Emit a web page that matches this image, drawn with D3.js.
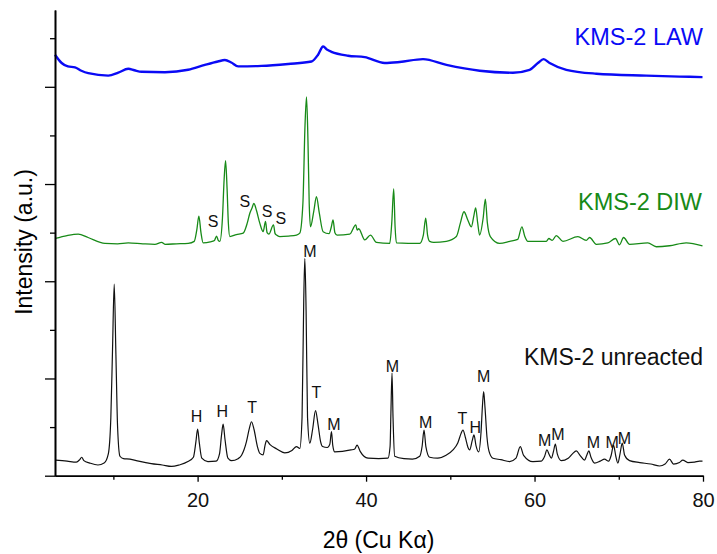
<!DOCTYPE html>
<html>
<head>
<meta charset="utf-8">
<script src="https://cdn.jsdelivr.net/npm/d3@7"></script>
<style>
  body { margin: 0; background: #fff; }
  svg text { font-family: "Liberation Sans", Arial, sans-serif; }
</style>
</head>
<body>
<div id="chart"></div>
<script>
// XRD patterns, [2theta, intensity (a.u.)]
var unreacted = [[3.1,0.32],[4.5,0.30],[5.6,0.28],[6.0,0.33],[6.24,0.38],[6.5,0.31],[7.2,0.26],[8.17,0.22],[8.9,0.26],[9.4,0.45],[9.7,1.2],[9.9,2.6],[10.1,3.94],[10.3,2.5],[10.5,1.0],[10.78,0.40],[11.2,0.35],[11.97,0.34],[13,0.30],[14.5,0.25],[15.8,0.22],[16.91,0.19],[17.8,0.22],[18.85,0.29],[19.5,0.38],[19.8,0.70],[20.0,0.96],[20.2,0.68],[20.5,0.36],[21.22,0.29],[22.2,0.30],[22.6,0.45],[22.85,0.85],[23.03,1.06],[23.25,0.75],[23.6,0.36],[24.03,0.31],[24.8,0.35],[25.22,0.42],[25.8,0.70],[26.15,0.98],[26.4,1.11],[26.7,0.95],[27.1,0.60],[27.39,0.46],[27.78,0.43],[28.0,0.62],[28.18,0.72],[28.6,0.64],[29.4,0.55],[30.35,0.47],[31.2,0.52],[31.74,0.60],[32.13,0.56],[32.4,1.2],[32.6,3.6],[32.73,4.47],[32.88,3.4],[33.05,1.2],[33.32,0.67],[33.65,0.95],[34.0,1.34],[34.3,1.05],[34.6,0.70],[34.83,0.60],[35.4,0.58],[35.7,0.65],[35.89,0.905],[36.05,0.62],[36.28,0.49],[37.2,0.50],[38.2,0.53],[38.66,0.55],[38.93,0.63],[39.3,0.50],[40.23,0.36],[41.5,0.35],[42.6,0.36],[42.85,0.6],[42.95,1.3],[43.08,2.11],[43.2,1.2],[43.4,0.40],[44.5,0.35],[45.5,0.34],[46.37,0.40],[46.65,0.6],[46.88,0.94],[47.1,0.6],[47.55,0.38],[48.5,0.36],[49.5,0.42],[50.32,0.53],[50.9,0.68],[51.3,0.88],[51.5,0.94],[51.8,0.78],[52.1,0.58],[52.3,0.53],[52.6,0.72],[52.81,0.84],[53.05,0.62],[53.37,0.49],[53.65,0.9],[53.82,1.45],[53.96,1.73],[54.12,1.4],[54.35,0.8],[54.6,0.5],[55.06,0.36],[56.0,0.33],[57.05,0.29],[57.8,0.36],[58.31,0.60],[58.7,0.42],[59.81,0.29],[60.8,0.30],[61.2,0.40],[61.47,0.53],[61.75,0.43],[61.99,0.36],[62.25,0.50],[62.47,0.65],[62.7,0.45],[63.18,0.31],[64.0,0.36],[64.5,0.45],[64.96,0.51],[65.4,0.42],[65.94,0.32],[66.2,0.42],[66.45,0.51],[66.7,0.38],[67.13,0.26],[67.8,0.30],[68.31,0.34],[68.8,0.30],[69.1,0.42],[69.38,0.63],[69.65,0.40],[69.89,0.26],[70.15,0.45],[70.41,0.67],[70.7,0.42],[71.28,0.31],[72.5,0.27],[73.8,0.24],[74.84,0.20],[75.5,0.24],[76.03,0.34],[76.5,0.24],[77.2,0.27],[77.6,0.32],[78.2,0.27],[79.0,0.28],[79.58,0.30],[79.94,0.30]];

var diw = [[3.1,4.88],[4.5,4.94],[5.83,4.97],[7.0,4.90],[9.0,4.78],[10.5,4.77],[11.77,4.79],[13.5,4.77],[14.93,4.76],[15.73,4.80],[16.12,4.76],[17.5,4.77],[18.88,4.78],[19.6,4.82],[19.9,5.05],[20.15,5.34],[20.4,5.0],[20.66,4.79],[21.5,4.81],[22.0,4.84],[22.25,4.93],[22.45,4.84],[22.64,4.82],[22.95,5.3],[23.15,6.1],[23.32,6.48],[23.5,5.9],[23.65,5.2],[23.83,4.92],[24.6,4.96],[25.41,4.99],[25.9,5.2],[26.2,5.40],[26.45,5.5],[26.68,5.60],[27.0,5.45],[27.39,5.19],[27.78,5.02],[28.06,5.23],[28.25,5.0],[28.46,4.97],[29.01,5.16],[29.2,4.98],[29.37,4.95],[29.76,4.92],[30.8,4.93],[31.74,4.95],[32.13,4.99],[32.5,5.6],[32.75,7.2],[32.93,7.79],[33.1,6.9],[33.25,5.6],[33.4,5.12],[33.8,5.45],[34.11,5.74],[34.45,5.4],[34.9,5.02],[35.6,4.98],[35.85,5.1],[36.08,5.26],[36.3,5.0],[36.56,4.95],[38.06,4.97],[38.78,5.16],[38.95,5.05],[39.13,5.08],[39.84,4.85],[40.52,4.95],[41.23,4.80],[42.81,4.78],[43.05,5.2],[43.28,5.90],[43.45,5.1],[43.6,4.79],[45.0,4.78],[46.37,4.78],[46.8,4.95],[47.08,5.30],[47.3,4.95],[47.55,4.82],[48.03,4.80],[49.53,4.82],[50.72,4.92],[51.2,5.2],[51.62,5.43],[52.1,5.25],[52.5,5.12],[52.8,5.35],[53.01,5.51],[53.25,5.2],[53.48,4.95],[53.9,5.3],[54.16,5.69],[54.4,5.2],[54.75,4.92],[55.86,4.78],[57.05,4.82],[58.0,4.86],[58.5,5.12],[58.85,4.92],[59.21,4.82],[61.4,4.82],[61.7,4.88],[62.1,4.84],[62.58,4.94],[63.37,4.82],[65.15,4.92],[66.14,4.84],[66.54,4.90],[67.33,4.76],[68.7,4.79],[69.62,4.88],[70.09,4.75],[70.57,4.90],[71.28,4.76],[73.45,4.79],[74.45,4.71],[76.03,4.73],[78.0,4.79],[79.94,4.73]];

var law = [[3.07,8.66],[3.86,8.49],[4.6,8.42],[5.44,8.40],[6.2,8.33],[7.02,8.28],[9.39,8.23],[10.58,8.29],[11.77,8.37],[12.5,8.34],[13.35,8.31],[16.12,8.30],[18.88,8.35],[20.86,8.45],[22.4,8.52],[23.24,8.55],[24.0,8.50],[24.81,8.42],[27.59,8.43],[30.75,8.47],[33.52,8.52],[34.3,8.66],[34.9,8.83],[35.4,8.76],[35.89,8.72],[37.86,8.64],[39.84,8.61],[42.21,8.49],[43.99,8.51],[46.76,8.57],[49.54,8.45],[53.49,8.33],[57.44,8.29],[59.42,8.35],[60.4,8.49],[61.08,8.57],[61.79,8.49],[63.77,8.35],[67.33,8.27],[73.26,8.23],[77.21,8.21],[79.94,8.20]];

// phase labels: [letter, 2theta, intensity level of label centre]
var phaseLabels = [["H",19.88,1.23],["H",22.92,1.32],["T",26.48,1.41],["M",33.32,4.62],["T",34.11,1.71],["M",36.17,1.06],["M",43.13,2.26],["M",47.08,1.09],["T",51.43,1.18],["H",52.98,0.99],["M",53.96,2.05],["M",61.2,0.72],["M",62.77,0.85],["M",67.0,0.69],["M",69.22,0.69],["M",70.68,0.78],
  ["S",21.85,5.23],["S",25.61,5.64],["S",28.25,5.45],["S",29.88,5.30]];

var xMajor = [20, 40, 60, 80];
var xMinor = [10, 30, 50, 70];
var yMajor = [0, 2, 4, 6, 8];
var yMinor = [1, 3, 5, 7, 9];

var svgWidth = 717, svgHeight = 554;

var svg = d3.select("#chart")
  .append("svg")
  .attr("width", svgWidth)
  .attr("height", svgHeight);

var xScale = d3.scaleLinear().domain([3.07, 80]).range([55, 703]);
var yScale = d3.scaleLinear().domain([0, 9.58]).range([475.7, 10]);

var line = d3.line()
  .x(d => xScale(d[0]))
  .y(d => yScale(d[1]))
  .curve(d3.curveMonotoneX);

// traces
svg.append("path").datum(law)
  .attr("d", line).attr("fill", "none")
  .attr("stroke", "#0a0af5").attr("stroke-width", 2.4);

svg.append("path").datum(diw)
  .attr("d", line).attr("fill", "none")
  .attr("stroke", "#178a17").attr("stroke-width", 1.3);

svg.append("path").datum(unreacted)
  .attr("d", line).attr("fill", "none")
  .attr("stroke", "#111").attr("stroke-width", 1.2);

// axes
var xAxisG = svg.append("g").attr("transform", "translate(0,475.7)");
xAxisG.append("g").call(d3.axisBottom(xScale).tickValues(xMinor).tickSize(4).tickSizeOuter(0).tickFormat(""));
xAxisG.append("g").call(d3.axisBottom(xScale).tickValues(xMajor).tickSize(6).tickSizeOuter(0).tickPadding(11));

var yAxisG = svg.append("g").attr("transform", "translate(55,0)");
yAxisG.append("g").call(d3.axisLeft(yScale).tickValues(yMinor).tickSize(5).tickSizeOuter(0).tickFormat(""));
yAxisG.append("g").call(d3.axisLeft(yScale).tickValues(yMajor).tickSize(10).tickSizeOuter(0).tickFormat(""));

svg.selectAll(".domain").attr("stroke-width", 1.6);
svg.selectAll(".tick line").attr("stroke-width", 1.3);
xAxisG.selectAll("text").style("font-size", "20px").attr("fill", "#111");

// axis titles
svg.append("text")
  .attr("x", 378.5).attr("y", 548)
  .attr("text-anchor", "middle")
  .style("font-size", "23px")
  .text("2θ (Cu Kα)");

svg.append("text")
  .attr("transform", "translate(32,242) rotate(-90)")
  .attr("text-anchor", "middle")
  .style("font-size", "23px")
  .text("Intensity (a.u.)");

// sample names
svg.append("text").attr("x", 703).attr("y", 45).attr("text-anchor", "end")
  .style("font-size", "23.5px").attr("fill", "#0a0af5").text("KMS-2 LAW");
svg.append("text").attr("x", 702).attr("y", 210).attr("text-anchor", "end")
  .style("font-size", "23.5px").attr("fill", "#178a17").text("KMS-2 DIW");
svg.append("text").attr("x", 703).attr("y", 365).attr("text-anchor", "end")
  .style("font-size", "23px").attr("fill", "#111").text("KMS-2 unreacted");

// phase markers
svg.selectAll(".phase")
  .data(phaseLabels)
  .enter()
  .append("text")
  .attr("class", "phase")
  .attr("x", d => xScale(d[1]))
  .attr("y", d => yScale(d[2]))
  .attr("dy", "0.36em")
  .attr("text-anchor", "middle")
  .style("font-size", "16px")
  .attr("fill", "#111")
  .text(d => d[0]);
</script>
</body>
</html>
